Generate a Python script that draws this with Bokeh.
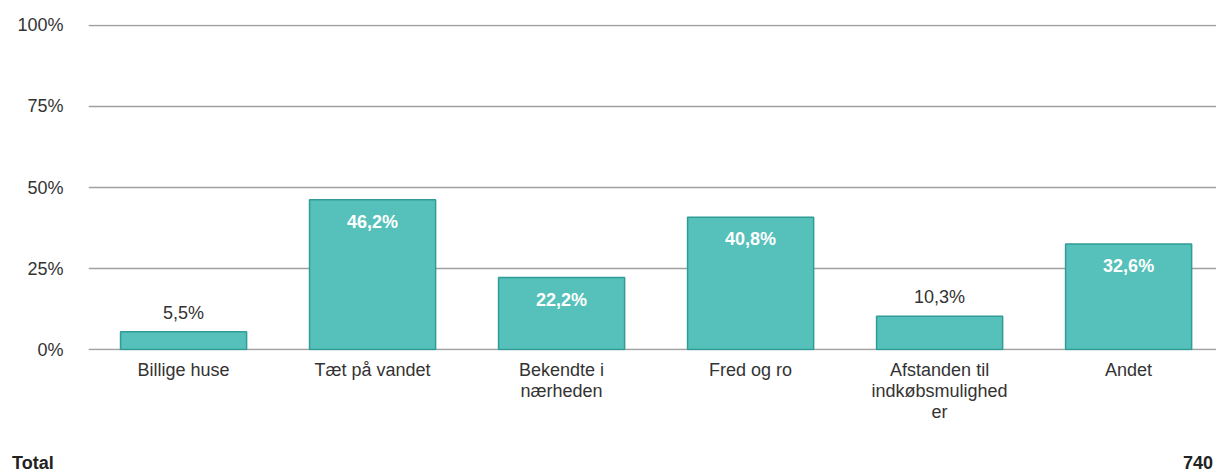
from bokeh.plotting import figure
from bokeh.layouts import column
from bokeh.models import Range1d, FixedTicker, ColumnDataSource, Div
from bokeh.embed import file_html
from bokeh.resources import INLINE
from bokeh.core.properties import value

categories = ["Billige huse", "Tæt på vandet", "Bekendte i\nnærheden", "Fred og ro",
              "Afstanden til\nindkøbsmulighed\ner", "Andet"]
values = [5.5, 46.2, 22.2, 40.8, 10.3, 32.6]
value_labels = ["5,5%", "46,2%", "22,2%", "40,8%", "10,3%", "32,6%"]
y_ticks = [0, 25, 50, 75, 100]
y_tick_labels = ["0%", "25%", "50%", "75%", "100%"]
total_label = "Total"
total_value = "740"

FONT = "Liberation Sans"
BAR_FILL = "#55c1ba"
BAR_LINE = "#2f9d95"
GRID = "#a0a0a0"
TEXT = "#333333"

xs = list(range(len(categories)))

p = figure(width=1216, height=443, output_backend="svg", toolbar_location=None,
           x_range=Range1d(-0.503, 5.465), y_range=Range1d(-0.3, 100.3),
           min_border_left=88, min_border_right=0, min_border_top=24, min_border_bottom=93)
p.outline_line_color = None
p.background_fill_color = "white"
p.border_fill_color = "white"

src = ColumnDataSource(dict(x=xs, top=values, lab=value_labels))
p.vbar(x="x", top="top", width=0.667, bottom=0, source=src,
       fill_color=BAR_FILL, line_color=BAR_LINE, line_width=1.5)

inside = [i for i, v in enumerate(values) if v > 15]
outside = [i for i, v in enumerate(values) if v <= 15]
src_in = ColumnDataSource(dict(x=[xs[i] for i in inside], y=[values[i] for i in inside],
                               t=[value_labels[i] for i in inside]))
src_out = ColumnDataSource(dict(x=[xs[i] for i in outside], y=[values[i] for i in outside],
                                t=[value_labels[i] for i in outside]))
p.text(x="x", y="y", text="t", source=src_in, text_color="white", text_font=value(FONT),
       text_font_size="18px", text_font_style="bold", text_align="center",
       text_baseline="top", y_offset=12)
p.text(x="x", y="y", text="t", source=src_out, text_color=TEXT, text_font=value(FONT),
       text_font_size="18px", text_align="center", text_baseline="bottom", y_offset=-9)

# axes
p.xaxis.ticker = FixedTicker(ticks=xs)
p.xaxis.major_label_overrides = {i: c for i, c in zip(xs, categories)}
p.xaxis.axis_line_color = None
p.xaxis.major_tick_line_color = None
p.xaxis.minor_tick_line_color = None
p.xaxis.major_tick_out = 0
p.xaxis.major_label_standoff = 9
p.xaxis.major_label_text_font = FONT
p.xaxis.major_label_text_font_size = "18px"
p.xaxis.major_label_text_color = TEXT
p.xaxis.major_label_text_line_height = 1.05

p.yaxis.ticker = FixedTicker(ticks=y_ticks)
p.yaxis.major_label_overrides = {t: l for t, l in zip(y_ticks, y_tick_labels)}
p.yaxis.axis_line_color = None
p.yaxis.major_tick_line_color = None
p.yaxis.minor_tick_line_color = None
p.yaxis.major_tick_out = 0
p.yaxis.major_label_standoff = 25
p.yaxis.major_label_text_font = FONT
p.yaxis.major_label_text_font_size = "18px"
p.yaxis.major_label_text_color = TEXT

p.xgrid.grid_line_color = None
p.ygrid.ticker = FixedTicker(ticks=y_ticks)
p.ygrid.grid_line_color = GRID
p.ygrid.grid_line_width = 1.5

# footer with the total
footer_html = (
    '<div style="display:flex;justify-content:space-between;box-sizing:border-box;'
    'width:1216px;margin:0;padding:11px 3px 0 12px;'
    f'font-family:\'{FONT}\';font-size:18px;line-height:18px;font-weight:bold;color:#222222;">'
    f'<span>{total_label}</span><span>{total_value}</span></div>'
)
f = Div(text=footer_html, width=1216, height=30, margin=0)

layout = column(p, f, spacing=0)
open("out.html", "w").write(file_html(layout, INLINE))
